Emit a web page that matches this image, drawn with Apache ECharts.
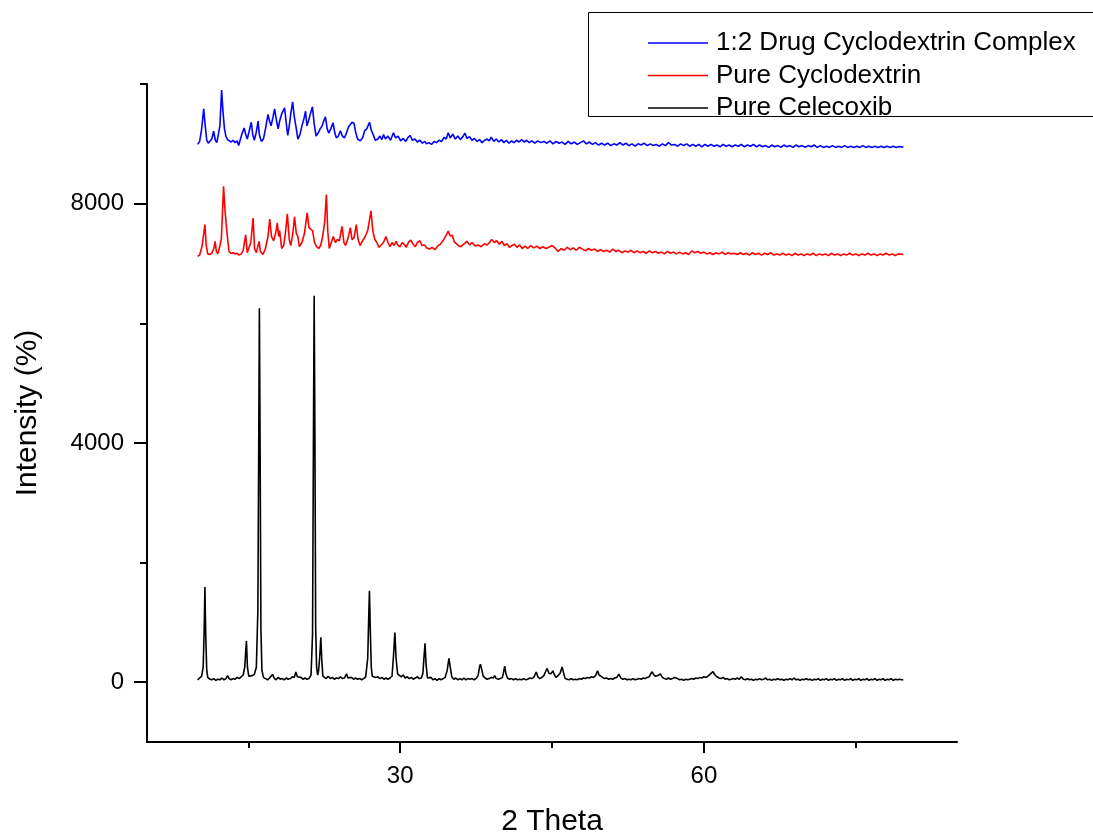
<!DOCTYPE html>
<html>
<head>
<meta charset="utf-8">
<script src="https://cdn.jsdelivr.net/npm/echarts@6.0.0/dist/echarts.min.js"></script>
<style>
html,body{margin:0;padding:0;background:#fff;}
#chart{width:1093px;height:834px;}
</style>
</head>
<body>
<div id="chart"></div>
<script>
// ---- Data (2 Theta, intensity) ----
const seriesNames = ["1:2 Drug Cyclodextrin Complex", "Pure Cyclodextrin", "Pure Celecoxib"];
const xMajorTicks = [30, 60];
const xMinorTicks = [15, 45, 75];
const yMajorTicks = [0, 4000, 8000];
const yMinorTicks = [2000, 6000, 10000];

const complexData = [
[10.0,8990],[10.2,9040],[10.4,9250],[10.6,9585],[10.75,9300],[10.9,9060],[11.05,9010],[11.2,9030],[11.4,9080],[11.58,9210],[11.75,9060],[11.9,9020],[12.05,9050],[12.2,9300],[12.37,9900],[12.5,9550],[12.65,9250],[12.8,9120],[12.96,9070],[13.15,9050],[13.3,9030],[13.5,9060],[13.7,9020],[13.9,9050],[14.05,8970],[14.2,9060],[14.35,9150],[14.59,9265],[14.75,9160],[14.9,9080],[15.05,9180],[15.3,9360],[15.45,9150],[15.6,9060],[15.8,9200],[15.97,9380],[16.1,9150],[16.3,9040],[16.5,9080],[16.7,9250],[16.95,9490],[17.1,9380],[17.25,9300],[17.45,9450],[17.6,9585],[17.8,9380],[17.95,9250],[18.1,9380],[18.3,9500],[18.45,9480],[18.59,9600],[18.75,9350],[18.9,9140],[19.05,9300],[19.2,9500],[19.38,9700],[19.55,9450],[19.75,9250],[19.9,9080],[20.1,9150],[20.3,9300],[20.5,9420],[20.66,9545],[20.8,9300],[20.95,9380],[21.1,9480],[21.34,9620],[21.5,9350],[21.7,9130],[21.9,9180],[22.1,9250],[22.3,9300],[22.45,9380],[22.62,9450],[22.8,9250],[22.95,9180],[23.15,9250],[23.38,9350],[23.55,9180],[23.7,9100],[23.9,9130],[24.1,9220],[24.3,9130],[24.5,9100],[24.7,9180],[24.9,9280],[25.05,9300],[25.25,9360],[25.45,9340],[25.6,9200],[25.8,9080],[26.07,9050],[26.3,9100],[26.5,9220],[26.7,9250],[26.98,9360],[27.15,9230],[27.35,9150],[27.55,9060],[27.8,9080],[28.0,9130],[28.2,9070],[28.36,9155],[28.55,9080],[28.8,9130],[29.05,9060],[29.34,9185],[29.55,9100],[29.8,9130],[30.05,9050],[30.3,9090],[30.55,9040],[30.8,9110],[31.0,9140],[31.2,9060],[31.45,9080],[31.7,9030],[31.95,9060],[32.2,9010],[32.45,9040],[32.6,9000],[32.85,9020],[33.1,8990],[33.35,9040],[33.6,9020],[33.85,9060],[34.1,9040],[34.35,9110],[34.55,9080],[34.75,9185],[34.95,9100],[35.2,9160],[35.45,9080],[35.7,9130],[35.95,9070],[36.2,9120],[36.4,9180],[36.6,9090],[36.85,9120],[37.1,9060],[37.35,9090],[37.6,9040],[37.85,9070],[38.1,9020],[38.35,9060],[38.6,9080],[38.8,9050],[39.0,9110],[39.25,9040],[39.5,9080],[39.75,9030],[40.0,9070],[40.25,9020],[40.5,9060],[40.75,9010],[41.0,9050],[41.25,9020],[41.5,9060],[41.75,9030],[42.0,9070],[42.25,9030],[42.5,9060],[42.75,9020],[43.0,9050],[43.3,9010],[43.6,9050],[43.9,9020],[44.2,9040],
[44.5,9010],[44.8,9050],[45.1,9000],[45.4,9040],[45.7,9010],[46.0,9030],[46.3,8990],[46.6,9040],[46.9,9000],[47.2,9030],[47.5,8990],[47.8,9020],[48.1,9050],[48.4,9000],[48.7,9030],[49.0,8990],[49.3,9020],[49.6,8980],[49.9,9010],[50.2,8980],[50.5,9010],[50.8,8970],[51.1,9000],[51.4,8980],[51.7,9020],[52.0,8980],[52.3,9010],[52.6,8970],[52.9,9000],[53.2,8960],[53.5,9000],[53.8,8980],[54.1,9010],[54.4,8970],[54.7,9000],[55.0,8970],[55.3,8990],[55.6,8960],[55.9,9000],[56.2,8970],[56.5,9020],[56.8,8980],[57.1,8990],[57.4,8960],[57.7,9000],[58.0,8970],[58.3,9000],[58.6,8960],[58.9,8990],[59.2,8960],[59.5,8990],[59.8,8950],[60.1,8990],[60.4,8960],[60.7,8990],[61.0,8960],[61.3,8980],[61.6,8950],[61.9,8990],[62.2,8960],[62.5,8980],[62.8,8950],[63.1,8980],[63.4,8960],[63.7,8990],[64.0,8950],[64.3,8980],[64.6,8960],[64.9,8990],[65.2,8950],[65.5,8980],[65.8,8950],[66.1,8970],[66.4,8940],[66.7,8980],[67.0,8950],[67.3,8970],[67.6,8940],[67.9,8980],[68.2,8950],[68.5,8970],[68.8,8940],[69.1,8980],[69.4,8950],[69.7,8970],[70.0,8940],[70.3,8970],[70.6,8950],[70.9,8980],[71.2,8940],[71.5,8970],[71.8,8940],[72.1,8960],[72.4,8940],[72.7,8970],[73.0,8940],[73.3,8960],[73.6,8940],[73.9,8970],[74.2,8940],[74.5,8960],[74.8,8940],[75.1,8960],[75.4,8940],[75.7,8970],[76.0,8940],[76.3,8960],[76.6,8940],[76.9,8960],[77.2,8940],[77.5,8960],[77.8,8940],[78.1,8960],[78.4,8940],[78.7,8960],[79.0,8940],[79.3,8955],[79.7,8945]
];

const cyclodextrinData = [
[10.0,7120],[10.2,7140],[10.45,7300],[10.72,7650],[10.85,7300],[11.0,7160],[11.2,7150],[11.4,7170],[11.6,7250],[11.73,7370],[11.85,7200],[12.0,7160],[12.2,7300],[12.35,7420],[12.56,8290],[12.7,7900],[12.85,7600],[13.0,7350],[13.1,7200],[13.3,7170],[13.5,7180],[13.7,7160],[13.9,7170],[14.1,7140],[14.3,7160],[14.5,7220],[14.75,7480],[14.9,7180],[15.05,7200],[15.25,7350],[15.48,7760],[15.62,7250],[15.8,7180],[16.07,7370],[16.2,7200],[16.45,7150],[16.7,7250],[16.95,7450],[17.12,7740],[17.3,7450],[17.5,7380],[17.7,7500],[17.87,7680],[18.0,7450],[18.1,7550],[18.3,7250],[18.5,7300],[18.7,7550],[18.86,7830],[19.05,7400],[19.2,7300],[19.4,7500],[19.57,7780],[19.75,7500],[19.9,7450],[20.05,7280],[20.3,7350],[20.55,7500],[20.82,7845],[21.0,7600],[21.15,7580],[21.35,7550],[21.55,7350],[21.75,7280],[21.95,7250],[22.15,7300],[22.35,7450],[22.55,7700],[22.72,8150],[22.85,7550],[23.0,7250],[23.2,7350],[23.4,7450],[23.6,7350],[23.8,7400],[24.0,7380],[24.26,7620],[24.45,7350],[24.6,7300],[24.85,7420],[25.08,7600],[25.25,7400],[25.45,7430],[25.67,7650],[25.85,7400],[26.05,7300],[26.3,7380],[26.55,7450],[26.8,7550],[27.12,7880],[27.3,7550],[27.5,7400],[27.7,7350],[27.9,7270],[28.1,7300],[28.35,7350],[28.6,7450],[28.8,7350],[29.0,7280],[29.2,7350],[29.4,7300],[29.6,7370],[29.8,7300],[30.0,7280],[30.2,7350],[30.4,7320],[30.6,7270],[30.85,7360],[31.05,7390],[31.25,7330],[31.5,7280],[31.7,7350],[31.95,7380],[32.15,7300],[32.4,7310],[32.65,7260],[32.9,7240],[33.15,7270],[33.44,7230],[33.7,7290],[33.95,7320],[34.2,7370],[34.45,7440],[34.75,7540],[34.95,7460],[35.15,7470],[35.35,7360],[35.55,7330],[35.75,7300],[36.0,7280],[36.25,7320],[36.6,7370],[36.85,7310],[37.1,7350],[37.4,7290],[37.7,7310],[38.0,7280],[38.3,7330],[38.6,7310],[38.85,7360],[39.05,7400],[39.3,7350],[39.55,7380],[39.8,7320],[40.05,7370],[40.3,7300],[40.55,7330],[40.8,7270],[41.05,7300],[41.3,7320],[41.55,7270],[41.8,7310],[42.05,7250],[42.35,7290],[42.6,7250],[42.9,7300],[43.2,7260],[43.5,7290],[43.8,7250],[44.1,7280],[44.4,7250],[44.7,7270],
[45.0,7300],[45.3,7260],[45.6,7200],[45.9,7250],[46.2,7220],[46.5,7270],[46.8,7230],[47.1,7260],[47.4,7220],[47.7,7270],[48.0,7240],[48.3,7210],[48.6,7250],[48.9,7220],[49.2,7240],[49.5,7200],[49.8,7230],[50.1,7200],[50.4,7220],[50.7,7190],[51.0,7240],[51.3,7200],[51.6,7220],[51.9,7180],[52.2,7210],[52.5,7190],[52.8,7220],[53.1,7180],[53.4,7210],[53.7,7180],[54.0,7200],[54.3,7170],[54.6,7210],[54.9,7180],[55.2,7200],[55.5,7170],[55.8,7190],[56.1,7160],[56.4,7200],[56.7,7170],[57.0,7190],[57.3,7160],[57.6,7190],[57.9,7160],[58.2,7180],[58.5,7150],[58.8,7210],[59.1,7180],[59.4,7200],[59.7,7170],[60.0,7190],[60.3,7160],[60.6,7180],[60.9,7150],[61.2,7180],[61.5,7160],[61.8,7190],[62.1,7150],[62.4,7180],[62.7,7160],[63.0,7170],[63.3,7150],[63.6,7180],[63.9,7150],[64.2,7170],[64.5,7140],[64.8,7180],[65.1,7150],[65.4,7170],[65.7,7140],[66.0,7170],[66.3,7150],[66.6,7180],[66.9,7140],[67.2,7160],[67.5,7140],[67.8,7170],[68.1,7140],[68.4,7160],[68.7,7130],[69.0,7170],[69.3,7140],[69.6,7160],[69.9,7130],[70.2,7160],[70.5,7140],[70.8,7170],[71.1,7130],[71.4,7160],[71.7,7140],[72.0,7160],[72.3,7130],[72.6,7170],[72.9,7140],[73.2,7160],[73.5,7130],[73.8,7160],[74.1,7140],[74.4,7170],[74.7,7140],[75.0,7160],[75.3,7130],[75.6,7160],[75.9,7140],[76.2,7170],[76.5,7140],[76.8,7160],[77.1,7130],[77.4,7160],[77.7,7140],[78.0,7170],[78.3,7140],[78.6,7160],[78.9,7130],[79.2,7160],[79.7,7150]
];

const celecoxibData = [
[10.0,40],[10.2,70],[10.4,100],[10.55,250],[10.65,900],[10.72,1590],[10.8,800],[10.9,200],[11.0,80],[11.2,50],[11.4,40],[11.6,60],[11.8,30],[12.0,50],[12.2,40],[12.4,70],[12.6,40],[12.8,60],[12.96,110],[13.1,60],[13.3,40],[13.5,60],[13.7,50],[13.9,80],[14.1,60],[14.3,90],[14.5,120],[14.65,250],[14.82,690],[14.92,250],[15.05,100],[15.2,80],[15.4,110],[15.6,130],[15.8,250],[15.95,1200],[16.05,4500],[16.1,6250],[16.17,4000],[16.25,900],[16.35,200],[16.5,80],[16.7,60],[16.9,40],[17.1,70],[17.25,60],[17.4,130],[17.55,70],[17.75,40],[17.95,80],[18.15,50],[18.35,60],[18.55,40],[18.75,70],[18.95,50],[19.15,60],[19.35,90],[19.55,80],[19.7,170],[19.85,90],[20.0,60],[20.2,80],[20.4,50],[20.6,70],[20.8,50],[21.0,60],[21.2,120],[21.35,800],[21.45,4500],[21.51,6460],[21.58,4300],[21.66,900],[21.75,250],[21.85,120],[21.95,200],[22.05,400],[22.17,750],[22.27,350],[22.37,100],[22.5,80],[22.7,60],[22.9,100],[23.1,60],[23.3,80],[23.5,50],[23.7,70],[23.9,60],[24.1,90],[24.3,60],[24.5,70],[24.7,140],[24.85,70],[25.0,60],[25.2,80],[25.4,50],[25.6,70],[25.8,50],[26.0,60],[26.2,40],[26.4,60],[26.6,90],[26.8,400],[26.9,1100],[26.97,1530],[27.05,900],[27.15,250],[27.25,100],[27.4,110],[27.6,80],[27.8,90],[28.0,60],[28.2,80],[28.4,50],[28.6,70],[28.8,50],[29.0,70],[29.2,100],[29.35,450],[29.48,830],[29.6,400],[29.75,140],[29.9,110],[30.1,90],[30.3,120],[30.5,70],[30.7,90],[30.9,60],[31.1,80],[31.3,50],[31.5,70],[31.7,90],[31.9,60],[32.1,70],[32.25,150],[32.35,400],[32.46,650],[32.56,300],[32.7,70],[32.85,50],[33.05,80],[33.25,40],[33.45,60],[33.65,30],[33.85,60],[34.05,40],[34.25,60],[34.45,80],[34.65,200],[34.82,400],[34.95,250],[35.1,90],[35.3,50],[35.5,70],[35.7,40],[35.9,60],[36.1,40],[36.3,70],[36.5,40],[36.7,60],[36.9,50],[37.1,60],[37.3,40],[37.5,60],[37.7,110],[37.85,260],[37.93,300],[38.05,220],[38.2,100],[38.4,70],[38.6,50],[38.8,60],[39.0,80],[39.2,70],[39.34,110],[39.5,60],[39.7,50],[39.9,60],[40.1,80],[40.2,150],[40.33,270],[40.45,140],[40.6,70],[40.8,50],[41.0,60],[41.2,40],[41.4,60],[41.6,40],[41.8,50],[42.0,40],[42.2,60],[42.4,40],[42.6,50],[42.8,70],[43.0,60],[43.2,80],[43.44,170],[43.6,90],[43.8,60],[44.0,80],[44.2,110],[44.35,170],[44.52,230],[44.7,150],[44.9,140],[45.08,190],[45.25,120],[45.4,80],[45.6,110],[45.8,150],[46.0,255],[46.15,150],[46.3,60],[46.5,50],[46.7,40],[46.9,60],[47.1,40],[47.3,50],[47.5,40],[47.7,60],[47.9,50],[48.1,70],[48.3,60],[48.5,80],[48.7,70],[48.9,90],[49.1,80],[49.3,110],[49.5,190],[49.65,120],[49.8,150],[50.0,80],[50.2,60],[50.4,70],[50.6,50],[50.8,60],[51.0,50],[51.2,70],[51.4,80],[51.6,135],[51.8,70],[52.0,50],[52.2,60],[52.4,40],[52.6,50],[52.8,40],[53.0,60],[53.2,40],[53.4,50],[53.6,60],[53.8,50],[54.0,70],[54.2,60],[54.4,80],[54.6,90],[54.75,140],[54.9,175],[55.05,120],[55.25,100],[55.45,110],[55.7,140],[55.9,80],[56.1,60],[56.3,50],[56.5,70],[56.7,50],[56.9,60],[57.1,80],[57.25,110],[57.4,60],[57.6,40],[57.8,50],[58.0,30],[58.2,50],[58.4,40],[58.6,50],[58.8,60],[59.0,50],[59.2,70],[59.4,60],[59.6,80],[59.8,70],[60.0,90],[60.2,80],[60.4,100],[60.6,130],[60.9,175],[61.1,120],[61.3,90],[61.5,70],[61.7,60],[61.9,80],[62.1,50],[62.3,60],[62.5,40],[62.7,50],[62.9,60],[63.1,50],[63.3,70],[63.5,50],[63.7,90],[63.9,50],[64.1,40],[64.3,60],[64.5,40],[64.7,50],[64.9,30],[65.1,50],[65.3,40],[65.5,60],[65.7,40],[65.9,50],[66.1,70],[66.3,40],[66.5,50],[66.7,30],[66.9,50],[67.1,40],[67.3,60],[67.5,40],[67.7,50],[67.9,30],[68.1,50],[68.3,40],[68.5,60],[68.7,40],[68.9,70],[69.1,40],[69.3,50],[69.5,30],[69.7,50],[69.9,40],[70.1,60],[70.3,40],[70.5,50],[70.7,30],[70.9,50],[71.1,40],[71.3,60],[71.5,30],[71.7,50],[71.9,40],[72.1,60],[72.3,30],[72.5,50],[72.7,40],[72.9,60],[73.1,30],[73.3,50],[73.5,40],[73.7,60],[73.9,30],[74.1,50],[74.3,40],[74.5,60],[74.7,30],[74.9,50],[75.1,40],[75.3,60],[75.5,30],[75.7,50],[75.9,40],[76.1,60],[76.3,30],[76.5,50],[76.7,40],[76.9,60],[77.1,30],[77.3,50],[77.5,40],[77.7,60],[77.9,30],[78.1,50],[78.3,40],[78.5,60],[78.7,30],[78.9,50],[79.1,40],[79.3,50],[79.7,35]
];

const seriesColors = ["#0000FF", "#FF0000", "#000000"];
const seriesData = [complexData, cyclodextrinData, celecoxibData];

const FONT = "'Liberation Sans', Arial, sans-serif";
const chart = echarts.init(document.getElementById('chart'), null, {renderer: 'canvas'});

const axisCommon = {
  type: 'value',
  splitLine: {show: false},
  axisLine: {show: true, onZero: false, lineStyle: {color: '#000', width: 2}},
};

chart.setOption({
  animation: false,
  backgroundColor: '#ffffff',
  grid: {left: 147, right: 136, top: 84, bottom: 92, containLabel: false, outerBoundsMode: 'none'},
  graphic: [{
    type: 'rect', left: 588, top: 12, z: 0,
    shape: {width: 560, height: 104},
    style: {fill: '#fff', stroke: '#000', lineWidth: 1}
  }],
  legend: {
    left: 648, top: 30,
    orient: 'vertical',
    data: seriesNames,
    icon: 'rect',
    itemWidth: 60, itemHeight: 1.5,
    itemGap: 6.5,
    padding: 0,
    z: 5,
    textStyle: {fontFamily: FONT, fontSize: 26, color: '#000', lineHeight: 26, padding: [0,0,0,3]},
  },
  xAxis: [
    Object.assign({}, axisCommon, {
      min: 5, max: 85, position: 'bottom',
      name: '2 Theta', nameLocation: 'middle', nameGap: 65,
      nameTextStyle: {fontFamily: FONT, fontSize: 30, color: '#000'},
      axisTick: {show: true, inside: false, length: 11, customValues: xMajorTicks, lineStyle: {color: '#000', width: 2}},
      axisLabel: {show: true, customValues: xMajorTicks, margin: 22, fontFamily: FONT, fontSize: 24, color: '#000',
                  formatter: v => String(v)},
    }),
    Object.assign({}, axisCommon, {
      min: 5, max: 85, position: 'bottom',
      axisLine: {show: false, onZero: false},
      axisTick: {show: true, length: 6, customValues: xMinorTicks, lineStyle: {color: '#000', width: 2}},
      axisLabel: {show: false},
    })
  ],
  yAxis: [
    Object.assign({}, axisCommon, {
      min: -1000, max: 10000, position: 'left',
      name: 'Intensity (%)', nameLocation: 'middle', nameGap: 104, nameRotate: 90,
      nameTextStyle: {fontFamily: FONT, fontSize: 30, color: '#000'},
      axisTick: {show: true, length: 13, customValues: yMajorTicks, lineStyle: {color: '#000', width: 2}},
      axisLabel: {show: true, customValues: yMajorTicks, margin: 23, fontFamily: FONT, fontSize: 24, color: '#000',
                  formatter: v => String(v)},
    }),
    Object.assign({}, axisCommon, {
      min: -1000, max: 10000, position: 'left',
      axisLine: {show: false, onZero: false},
      axisTick: {show: true, length: 7, customValues: yMinorTicks, lineStyle: {color: '#000', width: 2}},
      axisLabel: {show: false},
    })
  ],
  series: seriesNames.map((n, i) => ({
    name: n,
    type: 'line',
    xAxisIndex: 0, yAxisIndex: 0,
    data: seriesData[i],
    showSymbol: false,
    symbol: 'none',
    lineStyle: {color: seriesColors[i], width: 1.6},
    itemStyle: {color: seriesColors[i]},
    emphasis: {disabled: true},
  })),
});
</script>
</body>
</html>
